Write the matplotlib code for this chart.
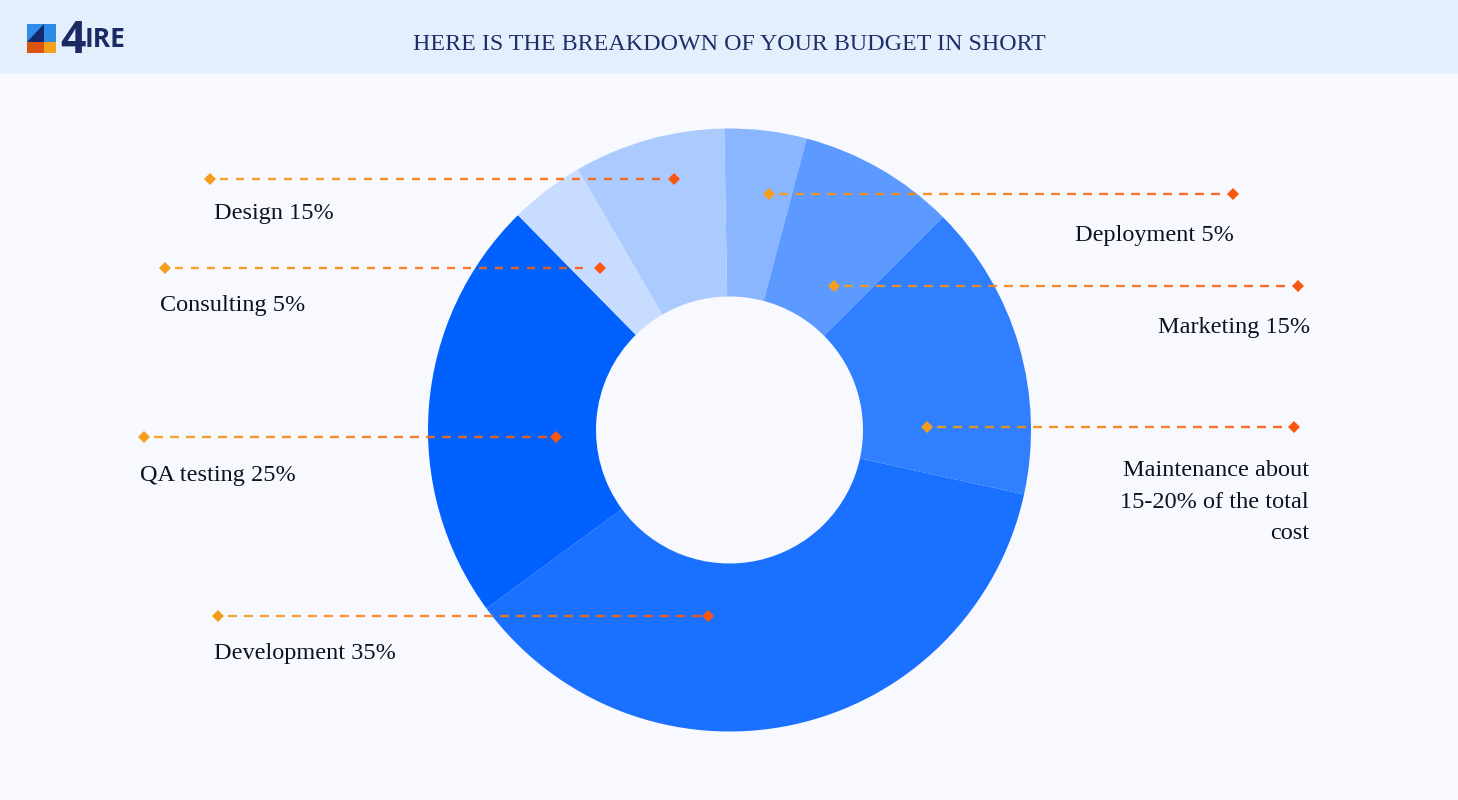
import numpy as np
import matplotlib
matplotlib.use("Agg")
import matplotlib.pyplot as plt
from matplotlib.patches import Rectangle, Polygon

categories = ["Deployment", "Marketing", "Maintenance", "Development", "QA testing", "Consulting", "Design"]
wedge_shares = [4.4, 8.4, 15.9, 36.5, 22.7, 4.0, 8.1]
wedge_colors = ["#8ab6ff", "#5c9aff", "#2f7fff", "#1a70ff", "#0061ff", "#c8dcff", "#abcbff"]

label_texts = ["Deployment 5%", "Marketing 15%", "Maintenance about\n15-20% of the total\ncost",
               "Development 35%", "QA testing 25%", "Consulting 5%", "Design 15%"]

# leader layout, in image pixels: y, left end, right end
leader_y = [193.5, 285.5, 426.5, 615.5, 436.5, 267.5, 178.5]
leader_x0 = [769.5, 834.5, 927.5, 218.5, 144.5, 165, 210]
leader_x1 = [1233, 1298, 1294.5, 708.5, 556, 600, 674]
label_x = [1234, 1310, 1309, 214, 140, 160, 214]
label_y = [236, 328, 502, 653, 476, 305, 213]
label_ha = ["right", "right", "right", "left", "left", "left", "left"]

W, H = 1458, 800
BG = "#f8f9fe"
fig = plt.figure(figsize=(W / 100, H / 100), dpi=100, facecolor=BG)
ax = fig.add_axes([0, 0, 1, 1])
ax.set_xlim(0, W)
ax.set_ylim(H, 0)
ax.set_aspect("equal")
ax.axis("off")

ax.add_patch(Rectangle((0, 0), W, 73.5, color="#e4effe", lw=0, zorder=0))

# donut: y axis is inverted so the angles run clockwise on screen
cx, cy, r_out, r_in = 729.5, 430, 301.5, 133.5
ax.pie(wedge_shares, colors=wedge_colors, startangle=-91, counterclock=True,
       center=(cx, cy), radius=r_out, frame=True,
       wedgeprops=dict(width=r_out - r_in, linewidth=0))
ax.set_xlim(0, W)
ax.set_ylim(H, 0)
ax.axis("off")

family = ["Liberation Serif"]
C0, C1 = np.array([0xF5, 0x9E, 0x1B]) / 255, np.array([0xF9, 0x57, 0x0E]) / 255
DASH, PERIOD = 8.5, 16.0
for x0, x1, y in zip(leader_x0, leader_x1, leader_y):
    x = x0 + 10
    while x + DASH < x1 - 6:
        t = (x - x0) / (x1 - x0)
        ax.plot([x, x + DASH], [y, y], color=C0 + (C1 - C0) * t, lw=1.7, alpha=0.9,
                solid_capstyle="butt", zorder=3)
        x += PERIOD
    ax.plot([x0], [y], marker="D", ms=5.8, color=C0, mew=0, zorder=4)
    ax.plot([x1], [y], marker="D", ms=5.8, color=C1, mew=0, zorder=4)

for t, x, y, ha in zip(label_texts, label_x, label_y, label_ha):
    ax.text(x, y, t, ha=ha, va="center", fontsize=17.5, family=family, color="#0d1222",
            linespacing=1.68, zorder=5, multialignment=ha)

ax.text(729.5, 49.5, "HERE IS THE BREAKDOWN OF YOUR BUDGET IN SHORT", ha="center", va="baseline",
        fontsize=17.3, family=family, color="#1e2f66", zorder=5)

# logo
ax.add_patch(Rectangle((27, 24), 29, 18, color="#2f8be8", lw=0, zorder=5))
ax.add_patch(Polygon([[27, 42], [44, 24], [44, 42]], color="#14296b", lw=0, zorder=6))
ax.add_patch(Rectangle((27, 42), 17, 10.5, color="#d9540f", lw=0, zorder=5))
ax.add_patch(Rectangle((44, 42), 12, 10.5, color="#f5a11b", lw=0, zorder=5))
ax.text(60, 53, "4", ha="left", va="baseline", fontsize=32, weight="bold",
        family=["Liberation Sans Narrow", "Open Sans"], color="#1b2a63", zorder=5)
ax.text(85, 47, "IRE", ha="left", va="baseline", fontsize=19, family="Open Sans", weight="bold",
        color="#1b2a63", zorder=5)

fig.savefig("out.png", dpi=100, facecolor=fig.get_facecolor())
